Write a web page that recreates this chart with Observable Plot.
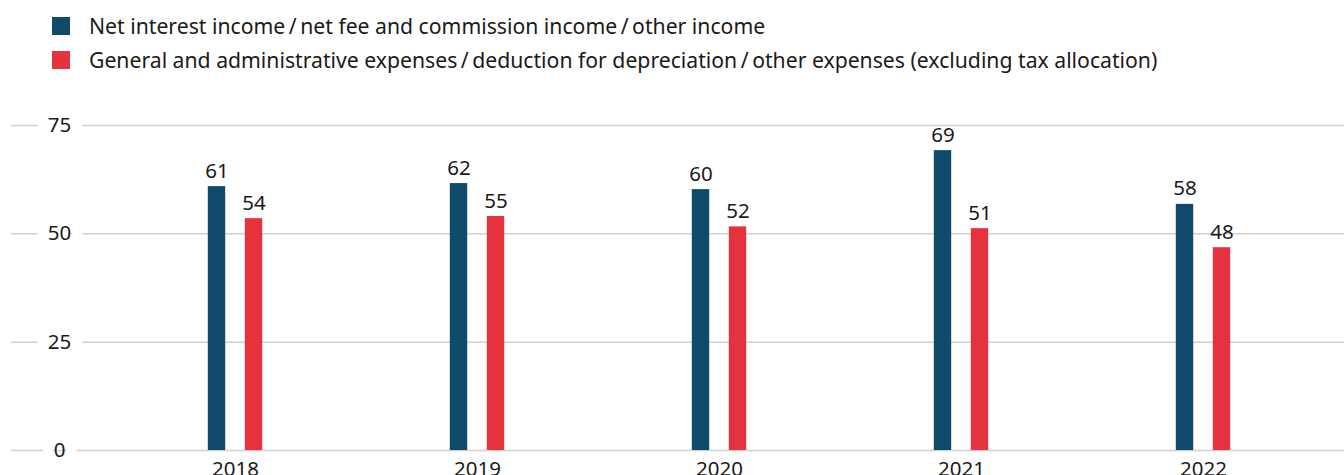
<!DOCTYPE html>
<html><head><meta charset="utf-8">
<script src="https://cdn.jsdelivr.net/npm/d3@7"></script>
<script src="https://cdn.jsdelivr.net/npm/@observablehq/plot@0.6"></script>
<style>
body{margin:0;background:#fff;font-family:"Noto Sans",sans-serif;color:#1a1a1a;overflow:hidden}
#legend{position:relative;height:90px}
.item{position:absolute;left:52px;display:flex;align-items:center;font-size:21.2px;white-space:nowrap;line-height:1}
.sw{width:18px;height:18px;margin-right:19px;flex:none}
</style></head><body>
<div id="legend"></div><div id="chart"></div>
<script>
const years = ["2018", "2019", "2020", "2021", "2022"];
const seriesNames = [
  "Net interest income\u2009/\u2009net fee and commission income\u2009/\u2009other income",
  "General and administrative expenses\u2009/\u2009deduction for depreciation\u2009/\u2009other expenses (excluding tax allocation)"
];
const incomeValues = [60.9, 61.6, 60.2, 69.2, 56.8];
const expenseValues = [53.5, 54.0, 51.6, 51.2, 46.8];
const incomeLabels = [61, 62, 60, 69, 58];
const expenseLabels = [54, 55, 52, 51, 48];
const yTicks = [0, 25, 50, 75];
const colors = ["#0f4a6b", "#e6323e"];

const legend = document.getElementById("legend");
seriesNames.forEach((n, i) => {
  const d = document.createElement("div");
  d.className = "item";
  d.style.top = (i === 0 ? 15 : 49) + "px";
  d.innerHTML = `<span class="sw" style="background:${colors[i]}"></span><span>${n}</span>`;
  legend.appendChild(d);
});

const income = years.map((y, i) => ({year: y, value: incomeValues[i], label: incomeLabels[i]}));
const expense = years.map((y, i) => ({year: y, value: expenseValues[i], label: expenseLabels[i]}));

const bandW = (1344 - 11 - 101 - 19) / years.length;
const barW = 18;
const inset = (bandW - barW) / 2;
const off = 18.5;

const chart = Plot.plot({
  width: 1344, height: 400,
  marginTop: 35, marginBottom: 40, marginLeft: 11, marginRight: 0,
  style: {fontFamily: '"Noto Sans", sans-serif', fontSize: "20px", color: "#1a1a1a", background: "#fff"},
  x: {domain: years, padding: 0, insetLeft: 101, insetRight: 19, label: null},
  y: {domain: [0, 75], axis: null},
  marks: [
    Plot.ruleY(yTicks, {stroke: "#d0d0d0", strokeWidth: 1.5}),
    Plot.text(yTicks, {y: d => d, frameAnchor: "left", dx: 48, textAnchor: "middle", text: d => String(d),
      fill: "#1a1a1a", stroke: "white", strokeWidth: 24, fontSize: 20.5}),
    Plot.barY(income, {x: "year", y: "value", fill: colors[0], dx: -off, insetLeft: inset, insetRight: inset}),
    Plot.barY(expense, {x: "year", y: "value", fill: colors[1], dx: off, insetLeft: inset, insetRight: inset}),
    Plot.text(income, {x: "year", y: "value", text: d => String(d.label), dx: -off, dy: -9, lineAnchor: "bottom", fill: "#1a1a1a", fontSize: 20.5}),
    Plot.text(expense, {x: "year", y: "value", text: d => String(d.label), dx: off, dy: -9, lineAnchor: "bottom", fill: "#1a1a1a", fontSize: 20.5}),
    Plot.axisX({tickSize: 0, tickPadding: 11, fontSize: 20.5, label: null})
  ]
});
document.getElementById("chart").appendChild(chart);
</script>
</body></html>
